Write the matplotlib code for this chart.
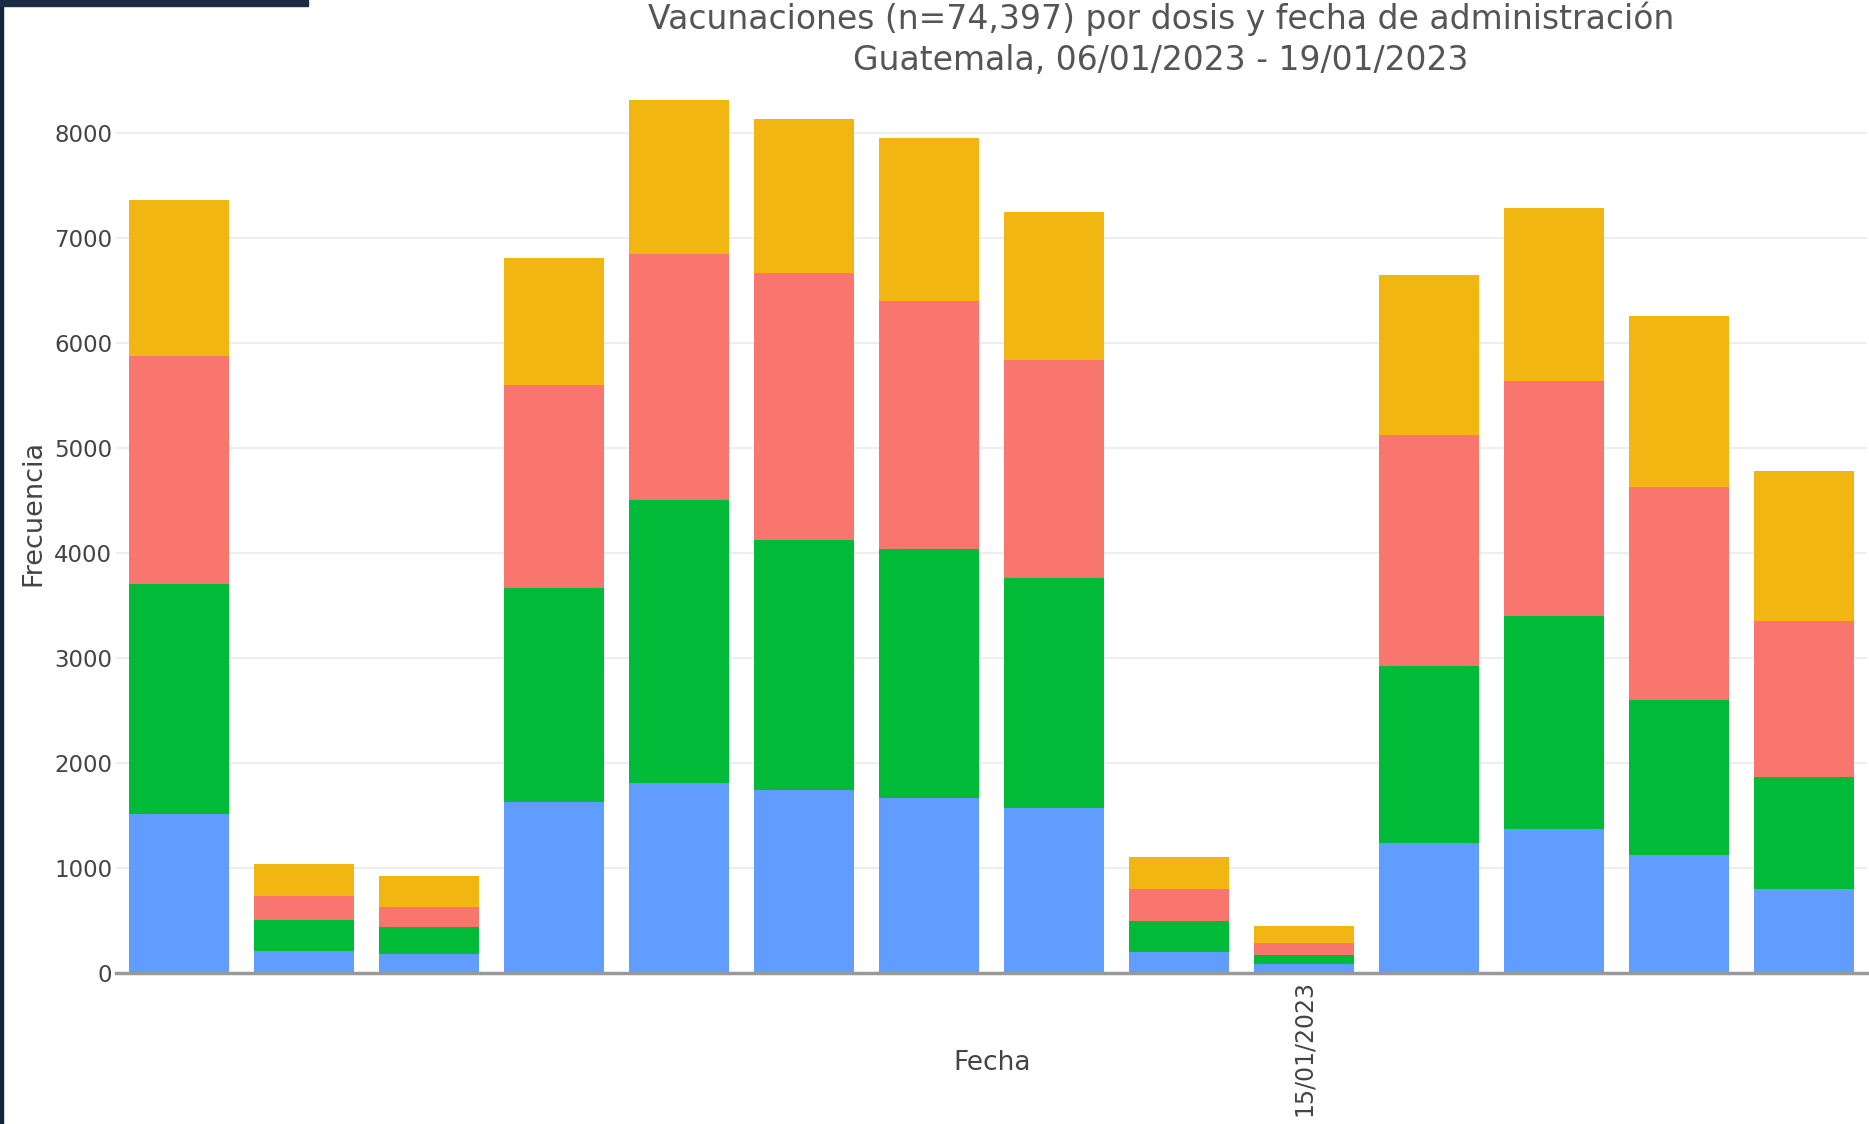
import numpy as np
import matplotlib.pyplot as plt
from matplotlib.patches import Rectangle

# fechas de administracion
fechas = ['06/01/2023', '07/01/2023', '08/01/2023', '09/01/2023', '10/01/2023',
          '11/01/2023', '12/01/2023', '13/01/2023', '14/01/2023', '15/01/2023',
          '16/01/2023', '17/01/2023', '18/01/2023', '19/01/2023']

# dosis (de abajo hacia arriba)
dosis1 = [1510, 205, 180, 1625, 1805, 1740, 1660, 1570, 195, 80, 1240, 1365, 1125, 795]
dosis2 = [2195, 295, 250, 2045, 2705, 2385, 2375, 2190, 295, 90, 1680, 2035, 1475, 1070]
dosis3 = [2170, 227, 195, 1930, 2340, 2545, 2365, 2080, 305, 115, 2205, 2240, 2025, 1490]
dosis4 = [1490, 307, 295, 1215, 1465, 1465, 1555, 1410, 310, 160, 1525, 1650, 1635, 1430]

colores = ['#619CFF', '#00BA38', '#F8766D', '#F1B612']

fig = plt.figure(figsize=(18.69, 11.24), dpi=100)
ax = fig.add_axes([0.0622, 0.1347, 0.9367, 0.8175])

x = np.arange(len(fechas))
bottom = np.zeros(len(fechas))
for serie, c in zip([dosis1, dosis2, dosis3, dosis4], colores):
    ax.bar(x, serie, width=0.8, bottom=bottom, color=c, zorder=2)
    bottom += np.array(serie)

ax.set_xlim(-0.5, len(fechas) - 0.5)
ax.set_ylim(0, 8760)
ax.set_yticks(range(0, 9000, 1000))
ax.yaxis.grid(True, color='#eeeeee', linewidth=1.5, zorder=0)
ax.tick_params(axis='y', length=0, pad=3, labelsize=16.5, labelcolor='#444444')

# solo una etiqueta en el eje x
ax.set_xticks([9])
ax.set_xticklabels([fechas[9]], rotation=90, fontsize=17, color='#444444')
ax.tick_params(axis='x', length=0, pad=5)

for s in ['top', 'right', 'left']:
    ax.spines[s].set_visible(False)
ax.spines['bottom'].set_color('#999999')
ax.spines['bottom'].set_linewidth(2.5)
ax.spines['bottom'].set_zorder(3)

fig.text(0.5308, 0.054, 'Fecha', ha='center', va='center', fontsize=19, color='#444444')
fig.text(0.0177, 0.5436, 'Frecuencia', ha='center', va='center', rotation=90,
         fontsize=19.5, color='#444444')

fig.text(0.621, 0.983, 'Vacunaciones (n=74,397) por dosis y fecha de administración',
         ha='center', va='center', fontsize=23.8, color='#555555')
fig.text(0.621, 0.946, 'Guatemala, 06/01/2023 - 19/01/2023',
         ha='center', va='center', fontsize=23.8, color='#555555')

# borde oscuro de la captura
fig.patches.append(Rectangle((0, 0), 0.0016, 1, transform=fig.transFigure, color='#14233a', zorder=10))
fig.patches.append(Rectangle((0, 0.995), 0.165, 0.005, transform=fig.transFigure, color='#1c2c45', zorder=10))

plt.savefig('out.png')
